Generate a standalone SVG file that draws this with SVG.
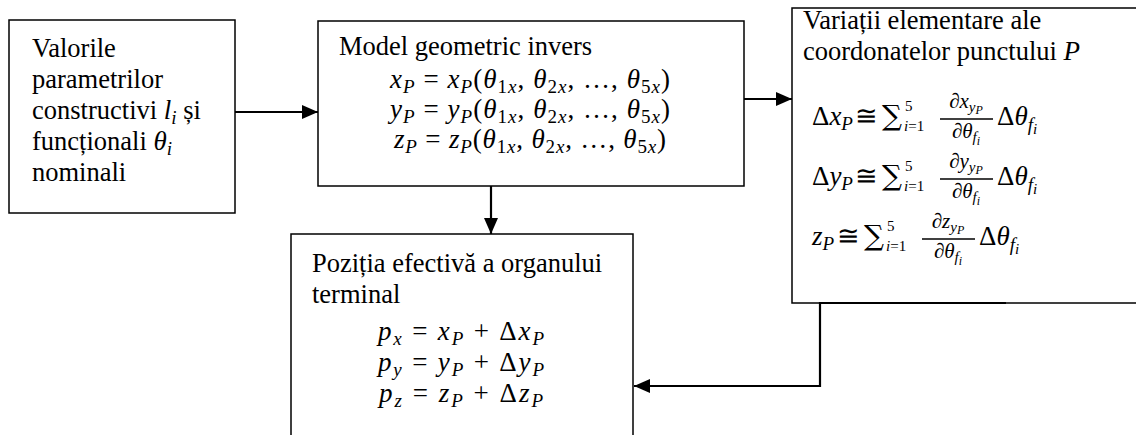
<svg xmlns="http://www.w3.org/2000/svg" width="1136" height="435" viewBox="0 0 1136 435">
<defs>
<style>
.box{fill:#fff;stroke:#000;stroke-width:1.5}
.t{font-family:"Liberation Serif","Times New Roman",serif;font-size:26.5px;fill:#000}
.m{font-family:"Liberation Serif","DejaVu Serif",serif;font-style:italic;font-size:27px;fill:#000}
.u{font-style:normal}
.s{font-size:19px}
.ss{font-size:15px}
.fr{font-size:21px}
.sg{font-family:"DejaVu Serif",serif;font-size:28px;font-style:normal}
.conn{fill:none;stroke:#000;stroke-width:2.2}
.bar{stroke:#000;stroke-width:1.3}
</style>
<marker id="ah" viewBox="0 0 16 14" refX="16" refY="7" markerWidth="16" markerHeight="14" markerUnits="userSpaceOnUse" orient="auto">
<path d="M0,0 L16,7 L0,14 Z" fill="#000"/>
</marker>
</defs>
<rect width="1136" height="435" fill="#fff"/>

<g id="n1">
<rect class="box" x="9" y="20" width="226" height="193"/>
<text class="t" x="32" y="57">Valorile</text>
<text class="t" x="32" y="88">parametrilor</text>
<text class="t" x="32" y="119">constructivi <tspan class="m">l</tspan><tspan class="m s" dy="5">i</tspan><tspan dy="-5"> și</tspan></text>
<text class="t" x="32" y="150">funcționali <tspan class="m">θ</tspan><tspan class="m s" dy="5">i</tspan></text>
<text class="t" x="32" y="181">nominali</text>
</g>

<g id="n2">
<rect class="box" x="318" y="21" width="426" height="165"/>
<text class="t" x="339" y="55">Model geometric invers</text>
<text class="m" x="530" y="88" text-anchor="middle" textLength="280">x<tspan class="s" dy="5">P</tspan><tspan class="u" dy="-5"> = </tspan>x<tspan class="s" dy="5">P</tspan><tspan class="u" dy="-5">(</tspan>θ<tspan class="s u" dy="5">1</tspan><tspan class="s">x</tspan><tspan class="u" dy="-5">, </tspan>θ<tspan class="s u" dy="5">2</tspan><tspan class="s">x</tspan><tspan class="u" dy="-5">, …, </tspan>θ<tspan class="s u" dy="5">5</tspan><tspan class="s">x</tspan><tspan class="u" dy="-5">)</tspan></text>
<text class="m" x="530" y="118" text-anchor="middle" textLength="280">y<tspan class="s" dy="5">P</tspan><tspan class="u" dy="-5"> = </tspan>y<tspan class="s" dy="5">P</tspan><tspan class="u" dy="-5">(</tspan>θ<tspan class="s u" dy="5">1</tspan><tspan class="s">x</tspan><tspan class="u" dy="-5">, </tspan>θ<tspan class="s u" dy="5">2</tspan><tspan class="s">x</tspan><tspan class="u" dy="-5">, …, </tspan>θ<tspan class="s u" dy="5">5</tspan><tspan class="s">x</tspan><tspan class="u" dy="-5">)</tspan></text>
<text class="m" x="530" y="148" text-anchor="middle" textLength="272">z<tspan class="s" dy="5">P</tspan><tspan class="u" dy="-5"> = </tspan>z<tspan class="s" dy="5">P</tspan><tspan class="u" dy="-5">(</tspan>θ<tspan class="s u" dy="5">1</tspan><tspan class="s">x</tspan><tspan class="u" dy="-5">, </tspan>θ<tspan class="s u" dy="5">2</tspan><tspan class="s">x</tspan><tspan class="u" dy="-5">, …, </tspan>θ<tspan class="s u" dy="5">5</tspan><tspan class="s">x</tspan><tspan class="u" dy="-5">)</tspan></text>
</g>

<g id="n3">
<rect class="box" x="792" y="8" width="350" height="295"/>
<text class="t" x="803" y="29">Variații elementare ale</text>
<text class="t" x="803" y="60">coordonatelor punctului <tspan class="m" font-size="31">P</tspan></text>

<text class="m" y="125"><tspan x="812" class="u">Δ</tspan>x<tspan class="s" dy="5">P</tspan><tspan class="u" x="855" dy="-5">≅</tspan><tspan class="sg" x="882">∑</tspan><tspan class="ss u" x="905" dy="-14">5</tspan><tspan class="ss" x="904" dy="20">i</tspan><tspan class="ss u">=1</tspan></text>
<text class="m fr" x="966" y="108" text-anchor="middle"><tspan class="u">∂</tspan>x<tspan class="ss" dy="4">y</tspan><tspan font-size="12" dy="2">P</tspan></text>
<line class="bar" x1="940" y1="119" x2="993" y2="119"/>
<text class="m fr" x="966" y="138" text-anchor="middle"><tspan class="u">∂</tspan>θ<tspan class="ss" dy="4">f</tspan><tspan font-size="12" dy="3">i</tspan></text>
<text class="m" x="997" y="125"><tspan class="u">Δ</tspan>θ<tspan class="s" dy="6">f</tspan><tspan class="ss" dy="3">i</tspan></text>

<text class="m" y="185"><tspan x="812" class="u">Δ</tspan>y<tspan class="s" dy="5">P</tspan><tspan class="u" x="855" dy="-5">≅</tspan><tspan class="sg" x="882">∑</tspan><tspan class="ss u" x="905" dy="-14">5</tspan><tspan class="ss" x="904" dy="20">i</tspan><tspan class="ss u">=1</tspan></text>
<text class="m fr" x="966" y="168" text-anchor="middle"><tspan class="u">∂</tspan>y<tspan class="ss" dy="4">y</tspan><tspan font-size="12" dy="2">P</tspan></text>
<line class="bar" x1="940" y1="179" x2="993" y2="179"/>
<text class="m fr" x="966" y="198" text-anchor="middle"><tspan class="u">∂</tspan>θ<tspan class="ss" dy="4">f</tspan><tspan font-size="12" dy="3">i</tspan></text>
<text class="m" x="997" y="185"><tspan class="u">Δ</tspan>θ<tspan class="s" dy="6">f</tspan><tspan class="ss" dy="3">i</tspan></text>

<text class="m" y="245"><tspan x="812">z</tspan><tspan class="s" dy="5">P</tspan><tspan class="u" x="837" dy="-5">≅</tspan><tspan class="sg" x="864">∑</tspan><tspan class="ss u" x="887" dy="-14">5</tspan><tspan class="ss" x="886" dy="20">i</tspan><tspan class="ss u">=1</tspan></text>
<text class="m fr" x="948" y="228" text-anchor="middle"><tspan class="u">∂</tspan>z<tspan class="ss" dy="4">y</tspan><tspan font-size="12" dy="2">P</tspan></text>
<line class="bar" x1="922" y1="239" x2="975" y2="239"/>
<text class="m fr" x="948" y="258" text-anchor="middle"><tspan class="u">∂</tspan>θ<tspan class="ss" dy="4">f</tspan><tspan font-size="12" dy="3">i</tspan></text>
<text class="m" x="979" y="245"><tspan class="u">Δ</tspan>θ<tspan class="s" dy="6">f</tspan><tspan class="ss" dy="3">i</tspan></text>
</g>

<g id="n4">
<rect class="box" x="291" y="234" width="342" height="215"/>
<text class="t" x="312" y="272">Poziția efectivă a organului</text>
<text class="t" x="312" y="303">terminal</text>
<text class="m" x="461" y="340" text-anchor="middle" textLength="166">p<tspan class="s" dy="5">x</tspan><tspan class="u" dy="-5"> = </tspan>x<tspan class="s" dy="5">P</tspan><tspan class="u" dy="-5"> + Δ</tspan>x<tspan class="s" dy="5">P</tspan></text>
<text class="m" x="461" y="371" text-anchor="middle" textLength="166">p<tspan class="s" dy="5">y</tspan><tspan class="u" dy="-5"> = </tspan>y<tspan class="s" dy="5">P</tspan><tspan class="u" dy="-5"> + Δ</tspan>y<tspan class="s" dy="5">P</tspan></text>
<text class="m" x="461" y="402" text-anchor="middle" textLength="164">p<tspan class="s" dy="5">z</tspan><tspan class="u" dy="-5"> = </tspan>z<tspan class="s" dy="5">P</tspan><tspan class="u" dy="-5"> + Δ</tspan>z<tspan class="s" dy="5">P</tspan></text>
</g>

<g id="connectors">
<path class="conn" d="M235,112 H318" marker-end="url(#ah)"/>
<path class="conn" d="M744,99 H792" marker-end="url(#ah)"/>
<path class="conn" d="M491,186 V234" marker-end="url(#ah)"/>
<path class="conn" d="M1006,303 H820 V386 H634" marker-end="url(#ah)"/>
</g>
</svg>
